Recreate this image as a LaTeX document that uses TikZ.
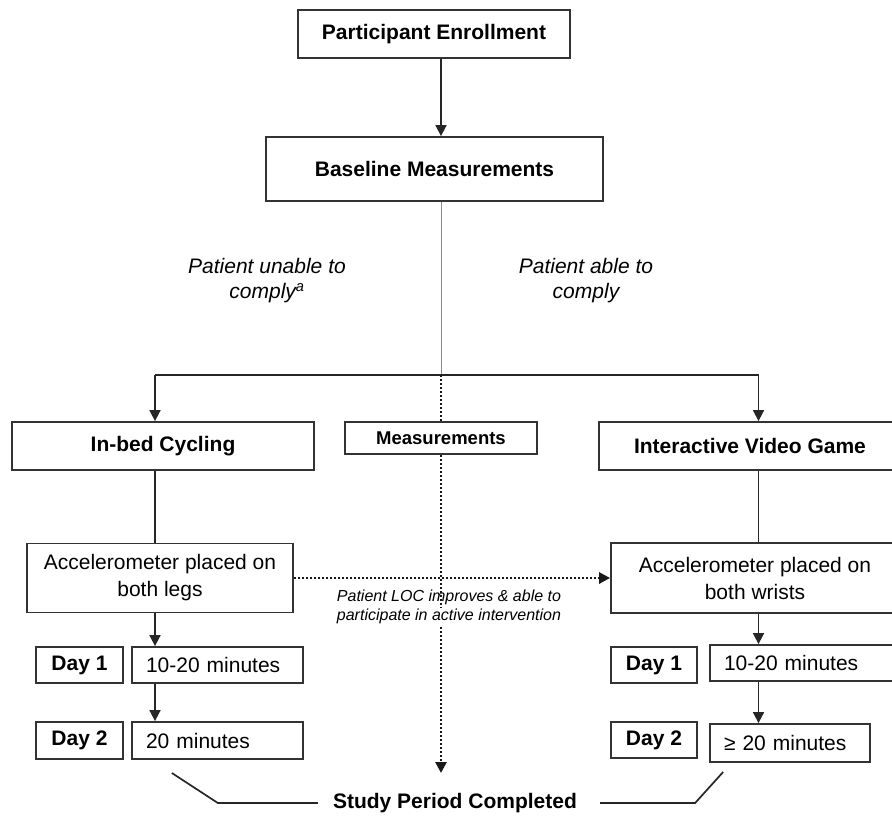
\documentclass[tikz,border=0pt]{standalone}
\usepackage{fontspec}
\setmainfont{Liberation Sans}
\usetikzlibrary{arrows.meta}
\begin{document}
\begin{tikzpicture}[x=1pt,y=-1pt,
  box/.style={draw=black!80,line width=1.8pt,inner sep=0pt,align=center},
  tbold/.style={font=\fontsize{21}{27}\selectfont\bfseries},
  treg/.style={font=\fontsize{21}{27}\selectfont},
  tital/.style={font=\fontsize{21}{25}\selectfont\itshape,align=center},
  durbox/.style={box,treg,align=left,minimum height=36},
  daybox/.style={box,tbold,minimum width=87,minimum height=36},
  conn/.style={line width=1.7pt,draw=black!85},
  arr/.style={conn,-{Triangle[length=11pt,width=11pt]}},
  dotline/.style={line width=2.6pt,dash pattern=on 2pt off 2pt,draw=black!90},
]
\clip (0,0) rectangle (892,817);
\fill[white] (0,0) rectangle (892,817);

\coordinate (axis) at (441,0);
\coordinate (laxis) at (155,0);
\coordinate (raxis) at (758.5,0);

\node[box,tbold,minimum width=272,minimum height=48] (enroll) at (434,34) {Participant Enrollment};
\node[box,tbold,minimum width=337,minimum height=64] (base) at (434.5,169) {Baseline Measurements};
\node[tital] (unable) at (267,281) {Patient unable to\\comply\textsuperscript{a}};
\node[tital] (able) at (586,281) {Patient able to\\comply};

\coordinate (split) at (441,375);
\coordinate (lsplit) at (155,375);
\coordinate (rsplit) at (758.5,375);

\node[box,tbold,minimum width=302,minimum height=48] (cyc) at (163,446) {In-bed Cycling};
\node[box,font=\fontsize{18.5}{22}\selectfont\bfseries,minimum width=192,minimum height=32] (meas) at (441,438) {Measurements};
\node[box,tbold,minimum width=302,minimum height=48] (game) at (750,446) {Interactive Video Game};

\node[box,treg,minimum width=266,minimum height=69] (legs) at (160,578) {Accelerometer placed on\\both legs};
\node[box,treg,minimum width=288,minimum height=70] (wrists) at (755,578) {Accelerometer placed on\\both wrists};

\node[font=\fontsize{16}{19}\selectfont\itshape,align=center] (loc) at (449,607) {Patient LOC improves \& able to\\participate in active intervention};

\node[daybox] (ld1) at (79.5,665) {Day 1};
\node[durbox,minimum width=171,text width=143] (ldur1) at (217.5,665) {10-20 minutes};
\node[daybox,minimum height=37] (ld2) at (79.5,740.5) {Day 2};
\node[durbox,minimum width=171,text width=143,minimum height=37] (ldur2) at (217.5,740.5) {20 minutes};

\node[daybox,minimum width=86] (rd1) at (654,665) {Day 1};
\node[durbox,minimum width=190,text width=162] (rdur1) at (805,663) {10-20 minutes};
\node[daybox,minimum width=86] (rd2) at (654,740) {Day 2};
\node[durbox,minimum width=160,text width=132,minimum height=38] (rdur2) at (790,743) {≥ 20 minutes};

\node[tbold,inner sep=0pt] (study) at (455,803) {Study Period Completed};
\coordinate (endpt) at (441,773);

% connectors
\draw[arr] (enroll.south -| axis) -- (base.north -| axis);
\draw[line width=0.9pt,draw=black!45] (base.south -| axis) -- (split);
\draw[conn] (lsplit) -- (rsplit);
\draw[arr] (lsplit) -- (cyc.north -| lsplit);
\draw[arr] (rsplit) -- (game.north -| rsplit);
\draw[dotline] (split) -- (meas.north);
\draw[conn] (cyc.south -| laxis) -- (legs.north -| laxis);
\draw[conn] (game.south -| raxis) -- (wrists.north -| raxis);
\draw[dotline,-{Triangle[length=11pt,width=11pt]}] (legs.east) -- (wrists.west);
\draw[dotline] (meas.south) -- (axis |- loc.center);
\draw[dotline,-{Triangle[length=11pt,width=11pt]}] (axis |- loc.south) -- (endpt);

\draw[arr] (legs.south -| laxis) -- (ldur1.north -| laxis);
\draw[arr] (ldur1.south -| laxis) -- (ldur2.north -| laxis);
\draw[arr] (wrists.south -| raxis) -- (rdur1.north -| raxis);
\draw[arr] (rdur1.south -| raxis) -- (rdur2.north -| raxis);

\draw[conn] ([xshift=-15pt]study.west) -- ++(-100,0) -- ++(-46,-30);
\draw[conn] ([xshift=23pt]study.east) -- ++(95,0) -- ++(28,-31);
\end{tikzpicture}
\end{document}
